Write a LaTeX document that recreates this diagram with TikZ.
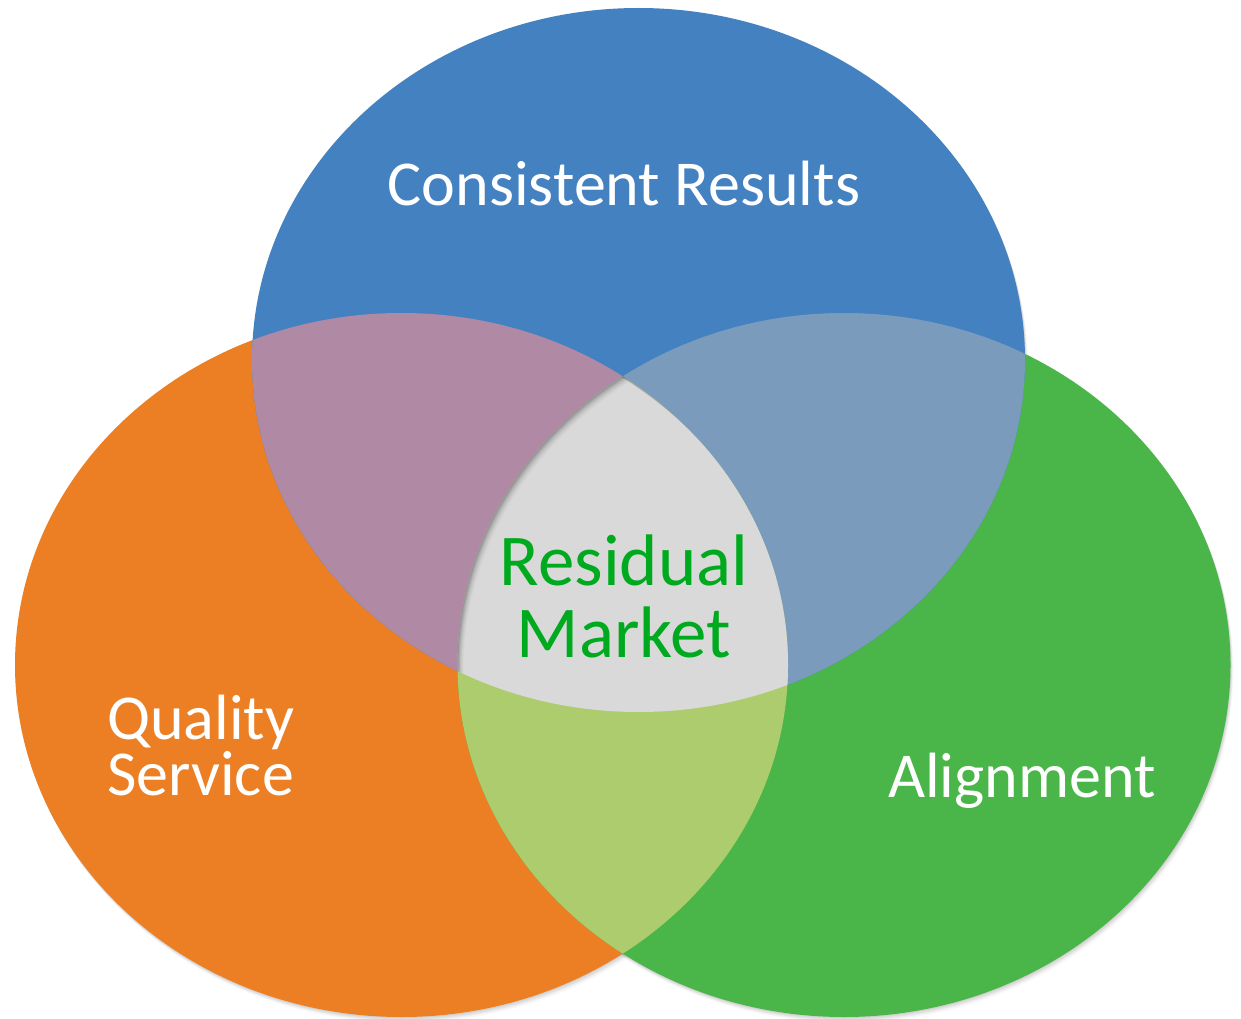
\documentclass[tikz,border=0pt]{standalone}
\usepackage{fontspec}
\setmainfont{Carlito}
\definecolor{cblue}{HTML}{4481C1}
\definecolor{corange}{HTML}{EC7F24}
\definecolor{cgreen}{HTML}{4AB649}
\definecolor{cpurple}{HTML}{B08AA5}
\definecolor{cbg}{HTML}{7B9BBD}
\definecolor{clgreen}{HTML}{ADCC6E}
\definecolor{cgray}{HTML}{D9D9D9}
\definecolor{ctext}{HTML}{00AA1E}
\begin{document}
\begin{tikzpicture}[x=1pt,y=-1pt,
  lbl/.style={inner sep=0pt, font=\fontsize{64}{53}\selectfont, text=white},
  midlbl/.style={inner sep=0pt, font=\fontsize{73}{72}\selectfont, text=ctext}]
\useasboundingbox (0,0) rectangle (1241,1019);
\def\RX{386.5pt}\def\RY{352pt}
\def\EB{(638.5,360) ellipse [x radius=\RX, y radius=\RY]}
\def\EO{(401.5,665) ellipse [x radius=\RX, y radius=\RY]}
\def\EG{(844,665) ellipse [x radius=\RX, y radius=\RY]}
% outer soft shadows
\foreach \s/\o in {1/0.05,2/0.045,3/0.04,4/0.03,5/0.02,6/0.015} {
  \fill[black,opacity=\o] (638.5+0.5*\s,360+\s) ellipse [x radius=\RX, y radius=\RY];
  \fill[black,opacity=\o] (401.5+0.5*\s,665+\s) ellipse [x radius=\RX, y radius=\RY];
  \fill[black,opacity=\o] (844+0.5*\s,665+\s) ellipse [x radius=\RX, y radius=\RY];
}
% base ellipses
\fill[corange] \EO;
\fill[cgreen] \EG;
\fill[cblue] \EB;
% pairwise overlaps
\begin{scope}\clip \EB; \fill[cpurple] \EO; \end{scope}
\begin{scope}\clip \EB; \fill[cbg] \EG; \end{scope}
\begin{scope}\clip \EO; \fill[clgreen] \EG; \end{scope}
% triple overlap with inner shadow
\begin{scope}
  \clip \EB; \clip \EO; \clip \EG;
  \fill[cgray] (0,0) rectangle (1241,1019);
  \foreach \s/\o in {1/0.10,2/0.08,3/0.06,4/0.045,5/0.03,6/0.02} {
    \fill[black,opacity=\o,even odd rule] (0,0) rectangle (1241,1019)
      (844+\s,665+\s) ellipse [x radius=\RX, y radius=\RY];
    \fill[black,opacity=\o,even odd rule] (0,0) rectangle (1241,1019)
      (401.5+\s,665+\s) ellipse [x radius=\RX, y radius=\RY];
  }
\end{scope}
% labels
\node[lbl, anchor=base] (cr) at (624,205) {Consistent Results};
\node[lbl, anchor=base west, align=left] (qs) at (107,795) {Quality\\Service};
\node[lbl, anchor=base] (al) at (1022,797) {Alignment};
\node[midlbl, anchor=base, align=center] (rm) at (624,657) {Residual\\Market};
\end{tikzpicture}
\end{document}
